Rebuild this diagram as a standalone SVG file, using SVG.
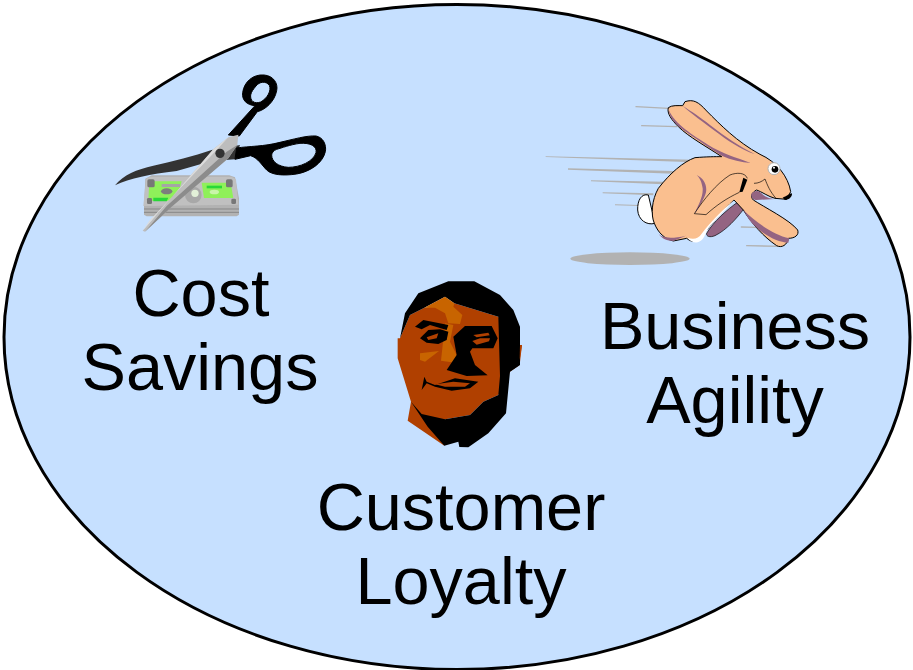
<svg xmlns="http://www.w3.org/2000/svg" width="913" height="670" viewBox="0 0 913 670">
<style>
.t{font-family:"Liberation Sans",Arial,sans-serif;font-size:66.6px;fill:#000;text-anchor:middle}
.fs{fill:#fabf8f;stroke:#000;stroke-width:3;stroke-linejoin:round}
.sp{fill:none;stroke:#b2b2b2;stroke-width:4;stroke-linecap:round}
.pu{fill:#946482}
.br{fill:#b04000}
.or{fill:#c86400}
</style>
<rect width="913" height="670" fill="#fff"/>
<ellipse id="boundary" cx="457" cy="337" rx="453" ry="332.5" fill="#c6e0ff" stroke="#000" stroke-width="3"/>
<g id="cost-savings">
<g transform="translate(100,60) scale(.33333)">
<path d="M132 438V464L140 469H410L417 464V415L405 352L388 346H155L136 356Z" fill="#b2b2b2"/>
<path d="M132 447H417M132 457H417" stroke="#808080" stroke-width="2.5" fill="none"/>
<path d="M130 438L138 356L150 350H395L408 358L415 434Z" fill="#c0c0c0"/>
<path d="M148 364H245L230 422H145Z" fill="#8ff05a"/>
<path d="M305 368H392L400 414H312Z" fill="#8ff05a"/>
<ellipse cx="200" cy="394" rx="17" ry="9" fill="#7d7d7d"/>
<path d="M185 372H240V381H185Z" fill="#a5a5a5"/>
<path d="M160 413H205L200 424H160Z" fill="#28d838"/>
<path d="M320 377H366V385H320Z" fill="#28d838"/>
<ellipse cx="343" cy="396" rx="14" ry="7" fill="#c9f5a9"/>
<circle cx="280" cy="405" r="25" fill="#a8a8a8"/>
<circle cx="285" cy="400" r="11" fill="#e2f0d8"/>
<rect x="142" y="358" width="22" height="24" rx="5" fill="#777"/>
<rect x="378" y="358" width="20" height="24" rx="5" fill="#777"/>
<rect x="141" y="414" width="15" height="18" rx="4" fill="#777"/>
<rect x="394" y="416" width="14" height="16" rx="4" fill="#777"/>
<path d="M45 376C70 345 110 328 160 317C220 303 280 290 335 270L420 255L405 298L335 303L230 333C150 342 90 355 45 376Z" fill="#333"/>
<path fill-rule="evenodd" fill="#000" stroke="#000" stroke-width="3" d="M385 225L465 137C440 135 425 120 428 98C432 65 460 42 492 45C520 47 535 70 530 92C524 125 495 150 472 155L418 228ZM452 105C450 122 462 133 482 126C502 115 515 92 508 76C498 62 478 65 468 78C460 88 454 95 452 105Z"/>
<path fill-rule="evenodd" fill="#000" stroke="#000" stroke-width="3" d="M410 264C450 258 490 260 540 247C580 238 620 226 648 228C670 232 680 255 676 275C668 310 630 335 590 342C550 348 515 345 500 330C485 315 475 295 452 287L405 298ZM515 285C515 305 535 320 565 322C600 322 640 305 648 278C652 258 630 248 600 250C570 254 545 264 530 268C520 272 516 278 515 285Z"/>
<path d="M128 512L340 268L385 232L415 224L412 255L385 295L215 440L135 515Z" fill="#bdbdbd"/>
<path d="M128 512L340 268L385 232L345 275L150 480Z" fill="#dcdcdc"/>
<path d="M135 515L215 440L385 295L412 255L380 275L200 438Z" fill="#8c8c8c"/>
<circle cx="360" cy="280" r="14" fill="#333"/>
</g>
<text class="t" x="201" y="316">Cost</text>
<text class="t" x="200" y="390">Savings</text>
</g>
<g id="business-agility">
<g transform="translate(530,85) scale(.33333)">
<ellipse cx="300" cy="521" rx="179" ry="19" fill="#b2b2b2"/>
<path class="sp" d="M318 65L415 70M335 122L440 125M634 426L680 427M650 482L750 484"/>
<path d="M47 214L490 224V232L47 216ZM114 250L430 258V266L114 254ZM183 286L400 290V298L183 289ZM218 322L370 325V331L218 325ZM255 358L330 360V363L255 361Z" fill="#b2b2b2"/>
<path d="M530 445C550 410 590 375 625 350L643 370C620 400 590 435 555 452C540 458 528 455 530 445Z" class="pu" stroke="#000" stroke-width="2"/>
<path d="M355 330C335 325 322 345 323 375C325 405 350 422 375 415Z" fill="#fff" stroke="#000" stroke-width="3"/>
<path d="M465 50C490 42 505 50 530 78C570 118 620 170 690 208C740 230 775 275 782 320L770 343L735 340C715 335 695 320 680 315C665 322 660 335 670 345C700 365 780 405 803 435C808 450 795 460 775 460C772 480 755 490 740 482C700 455 665 415 640 375L612 345C580 375 545 415 525 442C515 470 490 478 470 460L430 468C405 462 385 445 373 415C362 390 365 345 385 310C420 265 460 230 495 218C530 215 555 215 575 215C530 185 475 155 445 125C425 105 410 85 415 68C425 60 445 62 458 62Z" class="fs"/>
<path class="pu" d="M415 72C420 100 435 118 470 142C510 170 540 190 575 212C605 225 635 232 662 234C620 218 575 205 535 180C490 150 435 120 415 72Z"/>
<path class="pu" d="M458 62C485 80 510 95 540 120C585 155 630 185 675 208C630 192 590 165 555 138C520 110 485 88 458 62Z"/>
<path class="pu" d="M500 270C520 280 532 298 528 322C522 345 505 370 493 388C505 360 520 335 518 310C515 290 510 280 500 270ZM640 375C675 410 730 450 778 460L775 473C740 472 690 445 658 405ZM665 325C680 312 690 320 700 330C715 340 725 342 735 342L680 345C670 345 660 335 665 325ZM385 445C395 460 425 462 468 452L430 468C412 468 395 462 385 445Z"/>
<path d="M472 458C490 464 505 462 515 446C540 412 575 378 612 345C585 378 555 405 535 430C528 442 526 452 518 462C505 478 485 474 472 458Z" fill="#fff"/>
<path d="M493 386L528 389C560 360 590 340 628 322M493 386C520 345 560 295 600 270C620 262 645 262 652 280" fill="none" stroke="#000" stroke-width="2"/>
<path d="M640 278L652 284L638 320L628 322Z" fill="#000"/>
<path d="M672 295C685 295 695 290 705 282C712 300 720 320 738 340" fill="none" stroke="#000" stroke-width="2"/>
<path d="M758 338C768 335 780 325 786 325C787 335 778 345 765 345Z" fill="#000"/>
<circle cx="732" cy="251" r="18" fill="#fff" stroke="#b2b2b2" stroke-width="3"/>
<circle cx="735" cy="253" r="10" fill="#000"/>
<circle cx="732" cy="248" r="3" fill="#fff"/>
</g>
<text class="t" x="735" y="349">Business</text>
<text class="t" x="735" y="423">Agility</text>
</g>
<g id="customer-loyalty">
<g transform="translate(385,270) scale(.33333)">
<path class="br" d="M38 205H45L75 135L118 113L208 100L340 140L405 225L411 225L404 285L375 305L340 375L295 395L255 435L180 448L178 527L68 452L78 395L55 320L38 265Z"/>
<path d="M45 205L60 130L100 70L190 34H268L345 75L385 120L405 170V285L375 305L363 430L310 490L250 532L223 531L220 515L178 527L128 470L78 395L110 432L180 448L255 435L295 395L340 375L345 318L340 140L208 100L180 80L118 113L75 135Z" fill="#000"/>
<path d="M405 225L411 225L404 270Z" class="br"/>
<path class="or" d="M118 113L180 80L208 100L205 110L232 135L225 162L190 160L180 130L150 113Z"/>
<path class="or" d="M180 160L205 165L195 215L215 255L210 278L168 272Z"/>
<path class="or" d="M105 250L162 243L120 275L105 270Z"/>
<path d="M240 168L320 168L338 205L325 235L262 235L255 245L270 285L308 316L245 318L185 300L215 255L205 200Z" fill="#000"/>
<path d="M262 213L285 205L315 205L312 214L275 224Z" class="br"/>
<path d="M265 195L310 188L314 196L275 202Z" class="br"/>
<path d="M90 170L115 150L190 165L185 180L135 165L110 178Z" fill="#000"/>
<path d="M105 205L130 180L165 178L190 185L185 210L160 222L125 218Z" fill="#000"/>
<path d="M125 202L160 190L155 205L130 210Z" class="br"/>
<path d="M110 360L118 320L125 335L150 345L210 325L280 335L255 355L200 362L150 350L125 340Z" fill="#000"/>
<path d="M150 343L205 335L255 340L240 350L180 350Z" class="br"/>
</g>
<text class="t" x="461" y="530">Customer</text>
<text class="t" x="461" y="604">Loyalty</text>
</g>
</svg>
